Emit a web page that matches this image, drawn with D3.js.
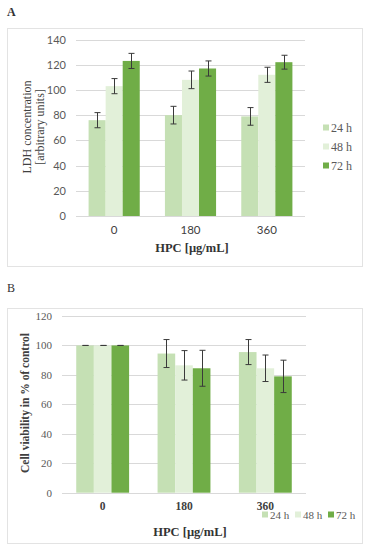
<!DOCTYPE html>
<html>
<head>
<meta charset="utf-8">
<script src="https://cdn.jsdelivr.net/npm/d3@7"></script>
<style>
  body { margin: 0; background: #fff; }
  svg { display: block; }
</style>
</head>
<body>
<div id="chart"></div>
<script>
// data
const doses = ["0", "180", "360"];
const times = ["24 h", "48 h", "72 h"];
const colors = ["#c5e0b4", "#e2f0d9", "#70ad47"];

// panel A: LDH concentration
const ldhMean = [[76, 80, 79], [103, 108, 112], [123, 117, 122]];
const ldhErr = [[6, 7, 7], [6, 7, 6], [6, 6, 5.5]];
const ldhTicks = [0, 20, 40, 60, 80, 100, 120, 140];

// panel B: cell viability
const viaMean = [[100, 94.5, 95.5], [100, 86.5, 84.5], [100, 84.5, 79]];
const viaErr = [[0, 9.5, 8.5], [0, 10, 9], [0, 12.2, 11]];
const viaTicks = [0, 20, 40, 60, 80, 100, 120];

const serif = "'Liberation Serif', 'Times New Roman', serif";
const sans = "Lato, 'Open Sans', sans-serif";

const svg = d3.select("#chart").append("svg")
    .attr("width", 371)
    .attr("height", 550);

// draws one grouped bar panel
function drawPanel(opt) {
    const g = svg.append("g");

    g.append("rect")
        .attr("x", opt.box[0] + 0.5).attr("y", opt.box[1] + 0.5)
        .attr("width", opt.box[2]).attr("height", opt.box[3])
        .attr("fill", "#fff").attr("stroke", "#e3e3e3");

    const x0 = d3.scaleBand().domain(doses).range(opt.xr)
        .paddingInner(opt.pad).paddingOuter(opt.pad / 2);
    const x1 = d3.scaleBand().domain(times).range([0, x0.bandwidth()]);
    const y = d3.scaleLinear().domain(opt.yd).range(opt.yr);

    // gridlines
    g.append("g").selectAll("line").data(opt.ticks).join("line")
        .attr("x1", opt.xr[0]).attr("x2", opt.xr[1])
        .attr("y1", d => Math.round(y(d)) + 0.5).attr("y2", d => Math.round(y(d)) + 0.5)
        .attr("stroke", "#d9d9d9");

    // y axis labels
    const yAxis = d3.axisLeft(y).tickValues(opt.ticks).tickSize(0).tickPadding(10);
    g.append("g").attr("transform", `translate(${opt.xr[0]},0)`).call(yAxis)
        .call(a => a.select(".domain").remove())
        .call(a => a.selectAll("text")
            .attr("font-family", opt.tickFont).attr("font-size", 11).attr("fill", "#595959"));

    // x axis labels
    const xAxis = d3.axisBottom(x0).tickSize(0).tickPadding(opt.catPad);
    g.append("g").attr("transform", `translate(0,${opt.yr[0]})`).call(xAxis)
        .call(a => a.select(".domain").remove())
        .call(a => a.selectAll("text")
            .attr("font-family", opt.catFont).attr("font-weight", opt.catWeight)
            .attr("font-size", 11.5).attr("fill", "#404040"));

    // bars
    times.forEach((t, si) => {
        const rows = doses.map((d, ci) => ({ d, v: opt.mean[si][ci], e: opt.err[si][ci] }));
        g.append("g").selectAll("rect").data(rows).join("rect")
            .attr("x", r => x0(r.d) + x1(t))
            .attr("width", x1.bandwidth())
            .attr("y", r => y(r.v))
            .attr("height", r => y(0) - y(r.v))
            .attr("fill", colors[si]);

        const eb = g.append("g").attr("stroke", "#3a3a3a").attr("stroke-width", 1);
        rows.forEach(r => {
            const cx = Math.round(x0(r.d) + x1(t) + x1.bandwidth() / 2) + 0.5;
            const hi = y(r.v + r.e), lo = y(r.v - r.e);
            eb.append("line").attr("x1", cx).attr("x2", cx).attr("y1", hi).attr("y2", lo);
            eb.append("line").attr("x1", cx - 3).attr("x2", cx + 3).attr("y1", hi).attr("y2", hi);
            eb.append("line").attr("x1", cx - 3).attr("x2", cx + 3).attr("y1", lo).attr("y2", lo);
        });
    });

    // x title
    g.append("text")
        .attr("x", opt.xTitle[0]).attr("y", opt.xTitle[1])
        .attr("text-anchor", "middle")
        .attr("font-family", serif).attr("font-weight", "bold").attr("font-size", 12.5)
        .attr("fill", "#333")
        .text("HPC [µg/mL]");

    // y title
    opt.yTitle.forEach((line, i) => {
        g.append("text")
            .attr("transform", `translate(${opt.yTitlePos[0] + i * 13},${opt.yTitlePos[1]}) rotate(-90)`)
            .attr("text-anchor", "middle")
            .attr("font-family", serif).attr("font-weight", opt.yTitleWeight)
            .attr("font-size", opt.yTitleSize)
            .attr("fill", "#404040")
            .text(line);
    });

    // legend
    const lg = g.append("g");
    times.forEach((t, i) => {
        const lx = opt.legend(i)[0], ly = opt.legend(i)[1];
        lg.append("rect").attr("x", lx).attr("y", ly - 3.5).attr("width", 6).attr("height", 6)
            .attr("fill", colors[i]);
        lg.append("text").attr("x", lx + 8).attr("y", ly + 4)
            .attr("font-family", serif).attr("font-size", opt.legendSize).attr("fill", "#595959")
            .text(t);
    });

    g.append("text").attr("x", opt.label[0]).attr("y", opt.label[1])
        .attr("font-family", serif).attr("font-size", 12)
        .attr("font-weight", opt.labelWeight).attr("fill", "#333")
        .text(opt.labelText);
}

drawPanel({
    labelText: "A", label: [7, 16], labelWeight: "bold",
    box: [7, 28, 355, 238],
    xr: [76, 305], pad: 0.33,
    yd: [0, 140], yr: [216, 39.5],
    ticks: ldhTicks, mean: ldhMean, err: ldhErr,
    tickFont: sans, catFont: sans, catWeight: "normal", catPad: 10,
    xTitle: [192, 252],
    yTitle: ["LDH concentration", "[arbitrary units]"], yTitlePos: [31, 127],
    yTitleWeight: "normal", yTitleSize: 12,
    legend: i => [323, 128 + i * 19], legendSize: 12
});

drawPanel({
    labelText: "B", label: [7, 292], labelWeight: "normal",
    box: [7, 308, 355, 235],
    xr: [62, 306], pad: 0.35,
    yd: [0, 120], yr: [492.7, 316],
    ticks: viaTicks, mean: viaMean, err: viaErr,
    tickFont: serif, catFont: serif, catWeight: "bold", catPad: 9,
    xTitle: [190, 536],
    yTitle: ["Cell viability in % of control"], yTitlePos: [29, 403],
    yTitleWeight: "bold", yTitleSize: 11.5,
    legend: i => [262 + i * 33, 515], legendSize: 11
});
</script>
</body>
</html>
